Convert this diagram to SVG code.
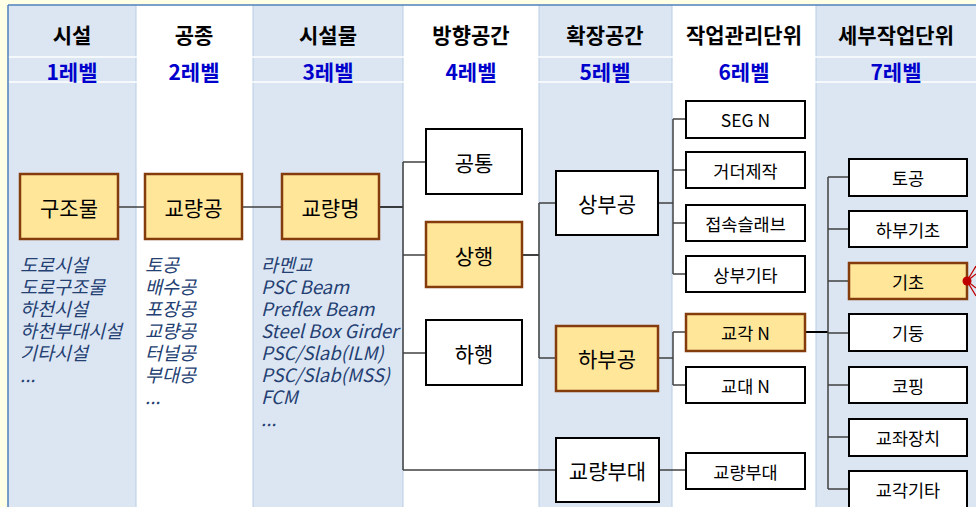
<svg xmlns="http://www.w3.org/2000/svg" width="976" height="507" viewBox="0 0 976 507">
<style>
text{font-family:"Noto Sans CJK KR","Noto Sans",sans-serif;}
.col{fill:#DCE6F2;}
.colw{fill:#FFFFFF;}
.sep{stroke:#B8CCE4;stroke-width:1;}
.hd{font-size:21px;font-weight:bold;fill:#000;text-anchor:middle;}
.lv{font-size:21px;font-weight:bold;fill:#0000CC;text-anchor:middle;}
.ny rect{fill:#FFE699;stroke:#843C0C;stroke-width:2.5;}
.nw rect{fill:#FFFFFF;stroke:#000;stroke-width:2;}
.big{font-size:21px;fill:#000;text-anchor:middle;dominant-baseline:central;}
.sm{font-size:17.5px;fill:#000;text-anchor:middle;dominant-baseline:central;}
.it{font-size:18.5px;font-style:italic;fill:#243F72;}
.cn{stroke:#404040;stroke-width:1.5;fill:none;}
.cnb{stroke:#000;stroke-width:2;fill:none;}
</style>
<rect x="0" y="0" width="976" height="507" fill="#FFFFE5"/>
<g id="columns">
<rect class="col" x="8" y="5" width="128" height="502"/>
<rect class="colw" x="136" y="5" width="117" height="502"/>
<rect class="col" x="253" y="5" width="150" height="502"/>
<rect class="colw" x="403" y="5" width="136" height="502"/>
<rect class="col" x="539" y="5" width="133" height="502"/>
<rect class="colw" x="672" y="5" width="144" height="502"/>
<rect class="col" x="816" y="5" width="160" height="502"/>
<line class="sep" x1="136" y1="5" x2="136" y2="507"/>
<line class="sep" x1="253" y1="5" x2="253" y2="507"/>
<line class="sep" x1="403" y1="5" x2="403" y2="507"/>
<line class="sep" x1="539" y1="5" x2="539" y2="507"/>
<line class="sep" x1="672" y1="5" x2="672" y2="507"/>
<line class="sep" x1="816" y1="5" x2="816" y2="507"/>
<line x1="8" y1="57" x2="976" y2="57" stroke="#FFFFFF" stroke-width="1.5"/>
<line x1="8" y1="82" x2="976" y2="82" stroke="#FFFFFF" stroke-width="1.5"/>
<line x1="8" y1="5" x2="976" y2="5" stroke="#4F81BD" stroke-width="1.5"/>
<line x1="8" y1="5" x2="8" y2="507" stroke="#4F81BD" stroke-width="1.5"/>
</g>
<g id="headers">
<text class="hd" x="72" y="43">시설</text>
<text class="hd" x="194" y="43">공종</text>
<text class="hd" x="328" y="43">시설물</text>
<text class="hd" x="471" y="43">방향공간</text>
<text class="hd" x="605" y="43">확장공간</text>
<text class="hd" x="744" y="43">작업관리단위</text>
<text class="hd" x="896" y="43">세부작업단위</text>
<text class="lv" x="72" y="80">1레벨</text>
<text class="lv" x="194" y="80">2레벨</text>
<text class="lv" x="328" y="80">3레벨</text>
<text class="lv" x="471" y="80">4레벨</text>
<text class="lv" x="605" y="80">5레벨</text>
<text class="lv" x="744" y="80">6레벨</text>
<text class="lv" x="896" y="80">7레벨</text>
</g>
<g id="lists">
<text class="it" x="20" y="272"><tspan x="20">도로시설</tspan><tspan x="20" dy="22">도로구조물</tspan><tspan x="20" dy="22">하천시설</tspan><tspan x="20" dy="22">하천부대시설</tspan><tspan x="20" dy="22">기타시설</tspan><tspan x="20" dy="22">...</tspan></text>
<text class="it" x="145" y="272"><tspan x="145">토공</tspan><tspan x="145" dy="22">배수공</tspan><tspan x="145" dy="22">포장공</tspan><tspan x="145" dy="22">교량공</tspan><tspan x="145" dy="22">터널공</tspan><tspan x="145" dy="22">부대공</tspan><tspan x="145" dy="22">...</tspan></text>
<text class="it" x="261" y="272"><tspan x="261">라멘교</tspan><tspan x="261" dy="22">PSC Beam</tspan><tspan x="261" dy="22">Preflex Beam</tspan><tspan x="261" dy="22">Steel Box Girder</tspan><tspan x="261" dy="22">PSC/Slab(ILM)</tspan><tspan x="261" dy="22">PSC/Slab(MSS)</tspan><tspan x="261" dy="22">FCM</tspan><tspan x="261" dy="22">...</tspan></text>
</g>
<g id="connectors">
<line class="cn" x1="118" y1="207" x2="145" y2="207"/>
<line class="cn" x1="242" y1="207" x2="282" y2="207"/>
<line class="cn" x1="379" y1="207" x2="403" y2="207" style="stroke:#000"/>
<line class="cn" x1="403" y1="162" x2="403" y2="470"/>
<line class="cn" x1="403" y1="162" x2="426" y2="162"/>
<line class="cn" x1="403" y1="255" x2="426" y2="255"/>
<line class="cn" x1="403" y1="353" x2="426" y2="353"/>
<line class="cn" x1="403" y1="470" x2="556" y2="470"/>
<line class="cn" x1="522" y1="255" x2="539" y2="255" style="stroke:#000"/>
<line class="cn" x1="539" y1="203" x2="539" y2="358"/>
<line class="cn" x1="539" y1="203" x2="556" y2="203"/>
<line class="cn" x1="539" y1="358" x2="556" y2="358"/>
<line class="cn" x1="658" y1="203" x2="673" y2="203"/>
<line class="cn" x1="673" y1="119" x2="673" y2="274"/>
<line class="cn" x1="673" y1="119" x2="686" y2="119"/>
<line class="cn" x1="673" y1="170" x2="686" y2="170"/>
<line class="cn" x1="673" y1="223" x2="686" y2="223"/>
<line class="cn" x1="673" y1="274" x2="686" y2="274"/>
<line class="cn" x1="658" y1="358" x2="673" y2="358"/>
<line class="cn" x1="673" y1="332" x2="673" y2="385"/>
<line class="cn" x1="673" y1="332" x2="686" y2="332"/>
<line class="cn" x1="673" y1="385" x2="686" y2="385"/>
<line class="cn" x1="659" y1="470" x2="686" y2="470"/>
<line class="cnb" x1="805" y1="332" x2="828" y2="332"/>
<line class="cn" x1="828" y1="177" x2="828" y2="489"/>
<line class="cn" x1="828" y1="177" x2="849" y2="177"/>
<line class="cn" x1="828" y1="229" x2="849" y2="229"/>
<line class="cn" x1="828" y1="281" x2="849" y2="281"/>
<line class="cn" x1="828" y1="333" x2="849" y2="333"/>
<line class="cn" x1="828" y1="385" x2="849" y2="385"/>
<line class="cn" x1="828" y1="437" x2="849" y2="437"/>
<line class="cn" x1="828" y1="489" x2="849" y2="489"/>
</g>
<g id="n-gujomul" class="ny"><rect x="20" y="174" width="98" height="65"/><text class="big" x="69" y="207">구조물</text></g>
<g id="n-gyoryanggong" class="ny"><rect x="145" y="174" width="97" height="65"/><text class="big" x="193.5" y="207">교량공</text></g>
<g id="n-gyoryangmyeong" class="ny"><rect x="282" y="174" width="97" height="65"/><text class="big" x="330.5" y="207">교량명</text></g>
<g id="n-gongtong" class="nw"><rect x="426" y="129" width="96" height="65"/><text class="big" x="474" y="162">공통</text></g>
<g id="n-sanghaeng" class="ny"><rect x="426" y="222" width="96" height="65"/><text class="big" x="474" y="255">상행</text></g>
<g id="n-hahaeng" class="nw"><rect x="426" y="320" width="96" height="65"/><text class="big" x="474" y="353">하행</text></g>
<g id="n-sangbugong" class="nw"><rect x="556" y="171" width="102" height="64"/><text class="big" x="607" y="203">상부공</text></g>
<g id="n-habugong" class="ny"><rect x="556" y="326" width="102" height="65"/><text class="big" x="607" y="358">하부공</text></g>
<g id="n-gyoryangbudae5" class="nw"><rect x="556" y="438" width="103" height="64"/><text class="big" x="607.5" y="470">교량부대</text></g>
<g id="n-segn" class="nw"><rect x="686" y="101" width="119" height="37"/><text class="sm" x="745.5" y="119.5">SEG N</text></g>
<g id="n-geodeo" class="nw"><rect x="686" y="152" width="119" height="36"/><text class="sm" x="745.5" y="170">거더제작</text></g>
<g id="n-jeopsok" class="nw"><rect x="686" y="205" width="119" height="36"/><text class="sm" x="745.5" y="223">접속슬래브</text></g>
<g id="n-sangbugita" class="nw"><rect x="686" y="256" width="119" height="36"/><text class="sm" x="745.5" y="274">상부기타</text></g>
<g id="n-gyogakn" class="ny"><rect x="686" y="314" width="119" height="37"/><text class="sm" x="745.5" y="332.5">교각 N</text></g>
<g id="n-gyodaen" class="nw"><rect x="686" y="367" width="119" height="36"/><text class="sm" x="745.5" y="385">교대 N</text></g>
<g id="n-gyoryangbudae6" class="nw"><rect x="686" y="453" width="119" height="36"/><text class="sm" x="745.5" y="471">교량부대</text></g>
<g id="n-togong" class="nw"><rect x="849" y="159" width="118" height="37"/><text class="sm" x="908" y="177.5">토공</text></g>
<g id="n-habugicho" class="nw"><rect x="849" y="211" width="118" height="36"/><text class="sm" x="908" y="229">하부기초</text></g>
<g id="n-gicho" class="ny"><rect x="849" y="263" width="118" height="36"/><text class="sm" x="908" y="281">기초</text></g>
<g id="n-gidung" class="nw"><rect x="849" y="314" width="118" height="37"/><text class="sm" x="908" y="332.5">기둥</text></g>
<g id="n-koping" class="nw"><rect x="849" y="367" width="118" height="36"/><text class="sm" x="908" y="385">코핑</text></g>
<g id="n-gyojwa" class="nw"><rect x="849" y="419" width="118" height="37"/><text class="sm" x="908" y="437.5">교좌장치</text></g>
<g id="n-gyogakgita" class="nw"><rect x="849" y="471" width="118" height="37"/><text class="sm" x="908" y="489.5">교각기타</text></g>
<g id="marker">
<circle cx="967" cy="281" r="4.5" fill="#C00000"/>
<line x1="967" y1="281" x2="976" y2="266" stroke="#C00000" stroke-width="1.3"/>
<line x1="967" y1="281" x2="976" y2="274" stroke="#C00000" stroke-width="1.3"/>
<line x1="967" y1="281" x2="976" y2="288" stroke="#C00000" stroke-width="1.3"/>
<line x1="967" y1="281" x2="976" y2="296" stroke="#C00000" stroke-width="1.3"/>
</g>
</svg>
